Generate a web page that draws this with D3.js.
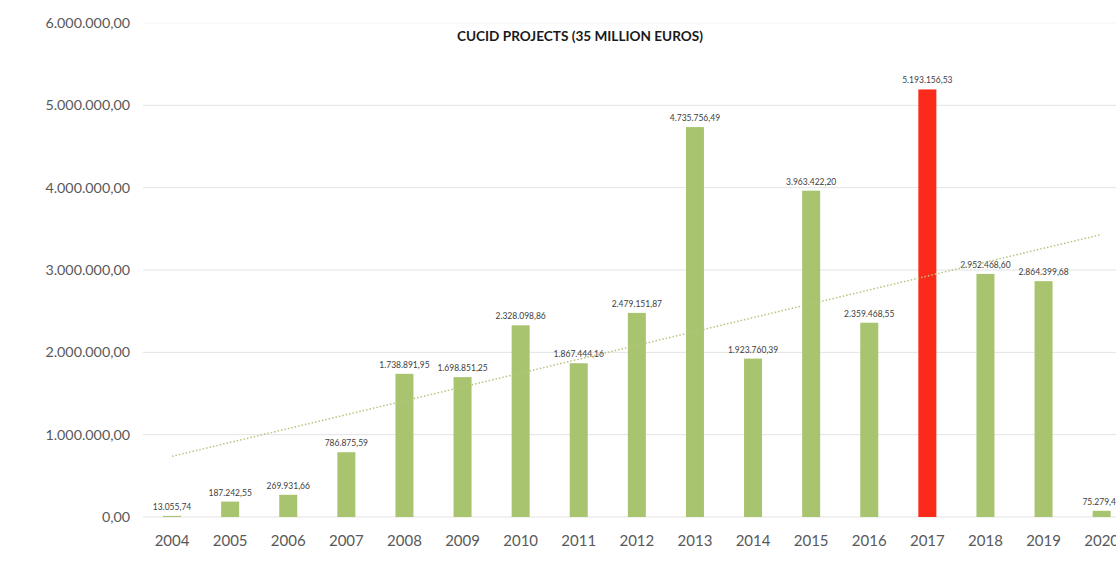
<html>
<head>
<script src="https://cdnjs.cloudflare.com/ajax/libs/d3/7.8.5/d3.min.js"></script>
<style>
  body { margin: 0; background: #fff; }
  svg { display: block; font-family: Lato, "Open Sans", sans-serif; }
</style>
</head>
<body>
<svg width="1116" height="570"></svg>
<script>
  var years = ["2004","2005","2006","2007","2008","2009","2010","2011","2012",
               "2013","2014","2015","2016","2017","2018","2019","2020"];
  var amounts = [13055.74, 187242.55, 269931.66, 786875.59, 1738891.95, 1698851.25,
                 2328098.86, 1867444.16, 2479151.87, 4735756.49, 1923760.39,
                 3963422.20, 2359468.55, 5193156.53, 2952468.60, 2864399.68, 75279.40];
  var highlightYear = "2017";
  var yTicks = [0, 1000000, 2000000, 3000000, 4000000, 5000000, 6000000];

  var locale = d3.formatLocale({decimal: ",", thousands: ".", grouping: [3], currency: ["", ""]});
  var fmt = locale.format(",.2f");

  var svg = d3.select("svg");
  var left = 143, step = 58.1;

  var x = d3.scaleBand()
    .domain(years)
    .range([left, left + step * years.length])
    .paddingInner(0.69)
    .paddingOuter(0.345);

  var y = d3.scaleLinear().domain([0, 6000000]).range([517, 23]);

  // grid
  svg.append("g").selectAll("line")
    .data(yTicks)
    .enter().append("line")
    .attr("x1", left).attr("x2", 1116)
    .attr("y1", d => y(d)).attr("y2", d => y(d))
    .attr("stroke", d => d == 6000000 ? "#f4f4f4" : "#e3e3e3")
    .attr("stroke-width", 1);

  // y labels
  svg.append("g").selectAll("text")
    .data(yTicks)
    .enter().append("text")
    .attr("x", 130).attr("y", d => y(d))
    .attr("dy", "0.35em")
    .attr("text-anchor", "end")
    .attr("fill", "#595959")
    .style("font-size", "14.3px")
    .text(d => fmt(d));

  // bars
  var data = years.map((d, i) => ({year: d, value: amounts[i]}));
  svg.append("g").selectAll("rect")
    .data(data)
    .enter().append("rect")
    .attr("x", d => x(d.year))
    .attr("width", x.bandwidth())
    .attr("y", d => y(d.value))
    .attr("height", d => y(0) - y(d.value))
    .attr("fill", d => d.year == highlightYear ? "#fb2a1b" : "#a9c46f");

  // value labels (2020 runs past the right edge, as in the original)
  svg.append("g").selectAll("text")
    .data(data)
    .enter().append("text")
    .attr("x", d => x(d.year) + x.bandwidth() / 2)
    .attr("y", d => y(d.value) - 6)
    .attr("text-anchor", "middle")
    .attr("fill", "#404040")
    .style("font-size", "8.5px")
    .text(d => fmt(d.value));

  // x labels
  svg.append("g").selectAll("text")
    .data(years)
    .enter().append("text")
    .attr("x", d => x(d) + x.bandwidth() / 2)
    .attr("y", 546)
    .attr("text-anchor", "middle")
    .attr("fill", "#595959")
    .style("font-size", "15px")
    .text(d => d);

  // linear trend line
  var n = amounts.length;
  var mx = d3.mean(amounts, (d, i) => i), my = d3.mean(amounts);
  var slope = d3.sum(amounts, (d, i) => (i - mx) * (d - my)) / d3.sum(amounts, (d, i) => (i - mx) * (i - mx));
  var icpt = my - slope * mx;
  var trend = [0, n - 1].map(i => [x(years[i]) + x.bandwidth() / 2, y(icpt + slope * i)]);
  svg.append("path")
    .attr("d", d3.line()(trend))
    .attr("fill", "none")
    .attr("stroke", "#b7c47e")
    .attr("stroke-width", 1.5)
    .attr("stroke-dasharray", "1.5,2");

  // title
  svg.append("text")
    .attr("x", 580).attr("y", 41)
    .attr("text-anchor", "middle")
    .attr("fill", "#1a1a1a")
    .style("font-size", "13.6px")
    .style("font-weight", "bold")
    .text("CUCID PROJECTS (35 MILLION EUROS)");
</script>
</body>
</html>
